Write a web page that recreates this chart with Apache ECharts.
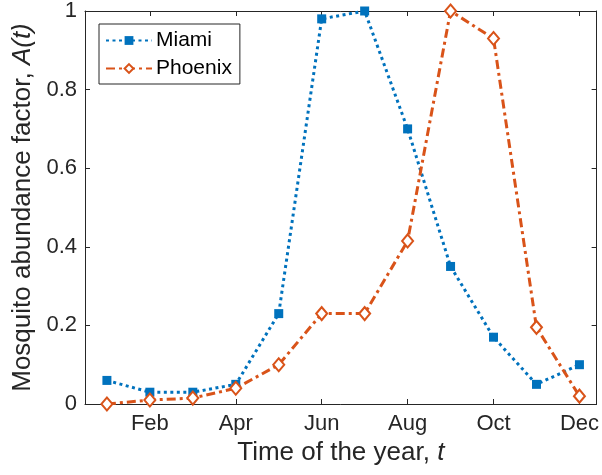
<!DOCTYPE html>
<html>
<head>
<meta charset="utf-8">
<script src="https://cdn.jsdelivr.net/npm/echarts@6/dist/echarts.min.js"></script>
<style>
html,body{margin:0;padding:0;background:#fff;}
#chart{width:602px;height:475px;}
</style>
</head>
<body>
<div id="chart"></div>
<script>
const months = [1,2,3,4,5,6,7,8,9,10,11,12];
const miami = [0.06,0.03,0.03,0.05,0.23,0.98,1.00,0.70,0.35,0.17,0.05,0.10];
const phoenix = [0.00,0.01,0.015,0.04,0.10,0.23,0.23,0.415,1.00,0.93,0.195,0.02];
const tickMonths = [2,4,6,8,10,12];
const tickLabels = {2:'Feb',4:'Apr',6:'Jun',8:'Aug',10:'Oct',12:'Dec'};
const seriesNames = ['Miami','Phoenix'];

const axisColor = '#262626';
const font = 'Liberation Sans, Arial, Helvetica, sans-serif';

const chart = echarts.init(document.getElementById('chart'), null, {renderer:'canvas'});
const xmin = 0.49, xmax = 12.4;

chart.setOption({
  animation:false,
  backgroundColor:'#fff',
  grid:{left:85,right:5,top:11,bottom:71},
  legend:{
    orient:'vertical', left:99, top:24,
    data:seriesNames,
    itemWidth:46, itemHeight:11, itemGap:7,
    borderColor:axisColor, borderWidth:1,
    padding:[6,8,5,6],
    textStyle:{fontFamily:font,fontSize:21,color:'#000',padding:[0,0,0,-1]}
  },
  xAxis:[{
    type:'value', min:xmin, max:xmax, position:'bottom',
    name:'Time of the year, {i|t}', nameLocation:'middle', nameGap:36,
    nameTextStyle:{fontFamily:font,fontSize:26,color:axisColor,
      rich:{i:{fontFamily:font,fontSize:26,fontStyle:'italic',color:axisColor}}},
    axisLine:{show:true,onZero:false,lineStyle:{color:axisColor,width:1}},
    axisTick:{show:true,inside:true,length:5,customValues:tickMonths,lineStyle:{color:axisColor}},
    axisLabel:{customValues:tickMonths,margin:9,fontFamily:font,fontSize:22,color:axisColor,
      formatter:v=>tickLabels[Math.round(v)]||''},
    splitLine:{show:false}
  },{
    type:'value', min:xmin, max:xmax, position:'top',
    axisLine:{show:true,onZero:false,lineStyle:{color:axisColor,width:1}},
    axisTick:{show:true,inside:true,length:5,customValues:tickMonths,lineStyle:{color:axisColor}},
    axisLabel:{show:false},
    splitLine:{show:false}
  }],
  yAxis:[{
    type:'value', min:0, max:1, interval:0.2, position:'left',
    name:'Mosquito abundance factor, {i|A(t)}', nameLocation:'middle', nameGap:46,
    nameTextStyle:{fontFamily:font,fontSize:26,color:axisColor,
      rich:{i:{fontFamily:font,fontSize:26,fontStyle:'italic',color:axisColor}}},
    axisLine:{show:true,onZero:false,lineStyle:{color:axisColor,width:1}},
    axisTick:{show:true,inside:true,length:5,lineStyle:{color:axisColor}},
    axisLabel:{margin:8,fontFamily:font,fontSize:22,color:axisColor,
      formatter:v=>String(Math.round(v*10)/10)},
    splitLine:{show:false}
  },{
    type:'value', min:0, max:1, interval:0.2, position:'right',
    axisLine:{show:true,onZero:false,lineStyle:{color:axisColor,width:1}},
    axisTick:{show:true,inside:true,length:5,lineStyle:{color:axisColor}},
    axisLabel:{show:false},
    splitLine:{show:false}
  }],
  series:[{
    name:seriesNames[0], type:'line',
    data:months.map((m,i)=>[m,miami[i]]),
    symbol:'rect', symbolSize:9,
    itemStyle:{color:'#0072BD'},
    lineStyle:{color:'#0072BD',width:3,type:[3,3.5],cap:'butt'},
    emphasis:{disabled:true}
  },{
    name:seriesNames[1], type:'line',
    data:months.map((m,i)=>[m,phoenix[i]]),
    symbol:'emptyDiamond', symbolSize:[11,13],
    itemStyle:{color:'#D95319',borderColor:'#D95319',borderWidth:3.5},
    lineStyle:{color:'#D95319',width:3,type:[9,4,3,4],cap:'butt'},
    emphasis:{disabled:true}
  }]
});
</script>
</body>
</html>
